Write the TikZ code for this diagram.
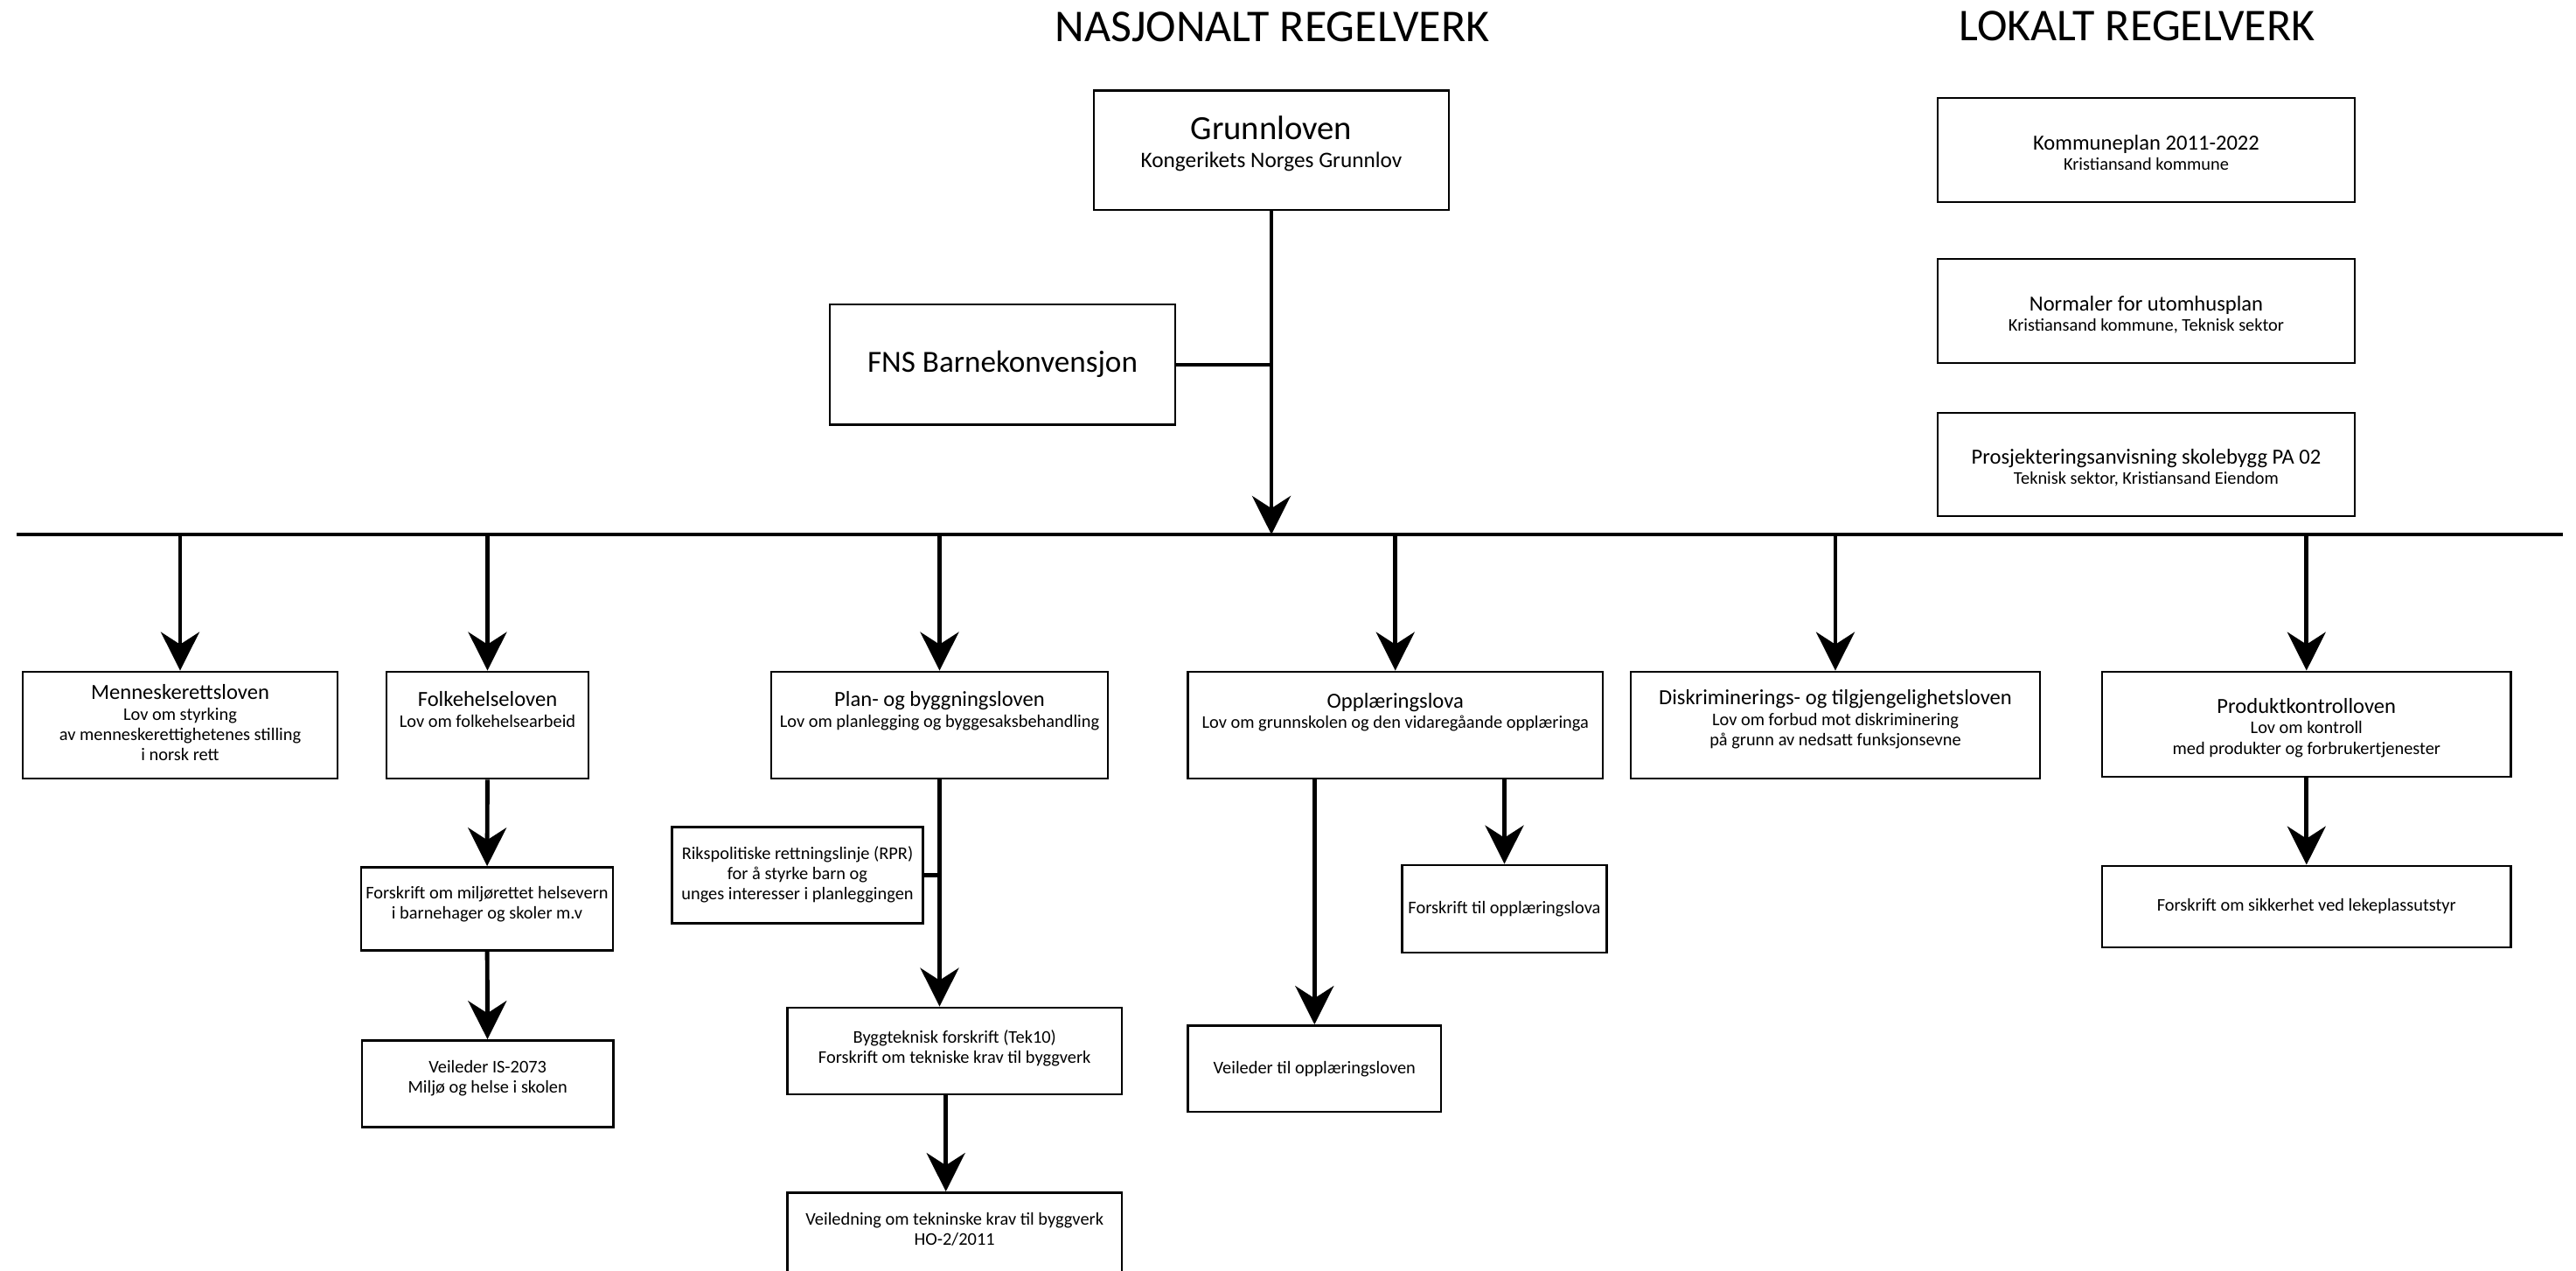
\documentclass[tikz,border=0pt]{standalone}
\usepackage{fontspec}
\setmainfont{Carlito}
\usetikzlibrary{arrows.meta}

\newcommand{\lawname}[1]{{\fontsize{7}{7.2}\selectfont #1\par}}

\begin{document}
\begin{tikzpicture}[
    law/.style n args={4}{draw, line width=0.8pt, inner sep=0pt,
        font=\fontsize{5.8}{6.6}\selectfont,
        execute at begin node={\begin{minipage}[c][#2][#3]{#1}\centering\vspace*{#4}},
        execute at end node={\end{minipage}}},
    heading/.style={anchor=base, inner sep=0pt, font=\fontsize{14.8}{16}\selectfont},
    arr/.style={line width=1.4pt, -{Stealth[length=12.5pt,width=12.5pt,inset=4pt]}},
    link/.style={line width=1.2pt},
    bar/.style={line width=1.4pt}]
        \useasboundingbox (0,0) rectangle (29.46,-14.53);
        \clip (0,0) rectangle (29.46,-14.53);

        \node[heading] (nat) at (14.55,-0.475) {NASJONALT REGELVERK};
        \node[heading] (lok) at (24.44,-0.47) {LOKALT REGELVERK};

        % nasjonalt
        \node[law={4.06cm}{1.364cm}{t}{8.3pt}] (grl) at (14.54,-1.718) {{\fontsize{11}{12}\selectfont Grunnloven\par}\fontsize{7.2}{9}\selectfont Kongerikets Norges Grunnlov\par};
        \node[law={3.95cm}{1.376cm}{c}{0pt}] (fns) at (11.465,-4.168) {\fontsize{10}{12}\selectfont FNS Barnekonvensjon};

        % lokalt
        \node[law={4.77cm}{1.19cm}{t}{12pt}] (kom) at (24.545,-1.715) {\lawname{Kommuneplan 2011-2022}Kristiansand kommune};
        \node[law={4.77cm}{1.19cm}{t}{12pt}] (norm) at (24.545,-3.555) {\lawname{Normaler for utomhusplan}Kristiansand kommune, Teknisk sektor};
        \node[law={4.77cm}{1.18cm}{t}{11.8pt}] (pa) at (24.545,-5.31) {\lawname{Prosjekteringsanvisning skolebygg PA 02}Teknisk sektor, Kristiansand Eiendom};

        \coordinate (barL) at (0.19,-6.11);
        \coordinate (barR) at (29.31,-6.11);
        \draw[bar] (barL) -- (barR);

        % lovene
        \node[law={3.60cm}{1.22cm}{t}{4.2pt}] (mr) at (2.06,-8.29) {\lawname{Menneskerettsloven}Lov om styrking\\ av menneskerettighetenes stilling\\ i norsk rett};
        \node[law={2.31cm}{1.22cm}{t}{6.5pt}] (fh) at (5.575,-8.29) {\lawname{Folkehelseloven}Lov om folkehelsearbeid};
        \node[law={3.85cm}{1.22cm}{t}{6.5pt}] (pbl) at (10.745,-8.29) {\lawname{Plan- og byggningsloven}Lov om planlegging og byggesaksbehandling};
        \node[law={4.745cm}{1.22cm}{t}{7pt}] (opl) at (15.9575,-8.29) {\lawname{Opplæringslova}Lov om grunnskolen og den vidaregåande opplæringa};
        \node[law={4.68cm}{1.22cm}{t}{5.9pt}] (dtl) at (20.99,-8.29) {\lawname{Diskriminerings- og tilgjengelighetsloven}Lov om forbud mot diskriminering\\ på grunn av nedsatt funksjonsevne};
        \node[law={4.676cm}{1.20cm}{t}{8.7pt}] (pkl) at (26.378,-8.28) {\lawname{Produktkontrolloven}Lov om kontroll\\ med produkter og forbrukertjenester};

        % forskrifter og veiledere
        \node[law={2.88cm}{0.95cm}{t}{6.2pt}] (fhf) at (5.57,-10.391) {Forskrift om miljørettet helsevern\\ i barnehager og skoler m.v};
        \node[law={2.875cm}{0.99cm}{t}{6.5pt}] (fhv) at (5.577,-12.391) {Veileder IS-2073\\ Miljø og helse i skolen};
        \node[law={2.87cm}{1.10cm}{t}{6.2pt}] (rpr) at (9.12,-10.006) {Rikspolitiske rettningslinje (RPR)\\ for å styrke barn og\\ unges interesser i planleggingen};
        \node[law={3.825cm}{0.99cm}{t}{7.3pt}] (tek) at (10.917,-12.015) {Byggteknisk forskrift (Tek10)\\ Forskrift om tekniske krav til byggverk};
        \node[law={3.825cm}{1.40cm}{t}{6.5pt}] (veil) at (10.917,-14.335) {Veiledning om tekninske krav til byggverk\\ HO-2/2011};
        \node[law={2.895cm}{0.985cm}{c}{0pt}] (oplv) at (15.033,-12.218) {Veileder til opplæringsloven};
        \node[law={2.34cm}{1.00cm}{c}{0pt}] (oplf) at (17.205,-10.39) {Forskrift til opplæringslova};
        \node[law={4.676cm}{0.93cm}{c}{0pt}] (pkf) at (26.378,-10.365) {Forskrift om sikkerhet ved lekeplassutstyr};

        \draw[arr] (grl.south) -- (grl.south |- barL);
        \draw[link] (fns.east) -- (fns.east -| grl.south);

        \draw[arr] (mr.north |- barL) -- (mr.north);
        \draw[arr] (fh.north |- barL) -- (fh.north);
        \draw[arr] (pbl.north |- barL) -- (pbl.north);
        \draw[arr] (opl.north |- barL) -- (opl.north);
        \draw[arr] (dtl.north |- barL) -- (dtl.north);
        \draw[arr] (pkl.north |- barL) -- (pkl.north);

        \draw[arr] (fh) -- (fhf);
        \draw[arr] (fhf) -- (fhv);
        \draw[arr] (pbl.south) -- (pbl.south |- tek.north);
        \draw[link] (rpr.east) -- (rpr.east -| pbl.south);
        \draw[arr] ([xshift=-1mm]tek.south) -- ([xshift=-1mm]veil.north);
        \draw[arr] (oplv.north |- opl.south) -- (oplv.north);
        \draw[arr] (oplf.north |- opl.south) -- (oplf.north);
        \draw[arr] (pkl) -- (pkf);
    \end{tikzpicture}
\end{document}
